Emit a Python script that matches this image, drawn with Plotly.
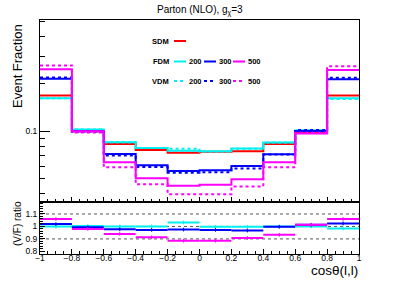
import numpy as np
import plotly.graph_objects as go

# ---------------- data ----------------
edges = [-1.0, -0.8, -0.6, -0.4, -0.2, 0.0, 0.2, 0.4, 0.6, 0.8, 1.0]
centers = [-0.9, -0.7, -0.5, -0.3, -0.1, 0.1, 0.3, 0.5, 0.7, 0.9]

sdm     = [0.169, 0.100, 0.083, 0.076, 0.073, 0.074, 0.0746, 0.083, 0.099, 0.169]
fdm200  = [0.162, 0.1024, 0.085, 0.0783, 0.075, 0.0746, 0.0775, 0.0846, 0.101, 0.162]
fdm300  = [0.216, 0.100, 0.0717, 0.0608, 0.0559, 0.0564, 0.060, 0.0714, 0.1004, 0.214]
fdm500  = [0.248, 0.100, 0.0635, 0.0502, 0.045, 0.0457, 0.0495, 0.0635, 0.0966, 0.245]
vdm200  = [0.162, 0.1027, 0.085, 0.0783, 0.0774, 0.0744, 0.0773, 0.0846, 0.101, 0.160]
vdm300  = [0.220, 0.0993, 0.0700, 0.0591, 0.0545, 0.0548, 0.0580, 0.0712, 0.1017, 0.219]
vdm500  = [0.262, 0.098, 0.059, 0.0459, 0.0397, 0.0397, 0.0444, 0.059, 0.0979, 0.259]

ratio200 = [1.000, 1.003, 1.000, 1.000, 1.032, 0.997, 0.997, 1.000, 1.000, 0.984]
ratio300 = [1.019, 0.993, 0.977, 0.972, 0.975, 0.972, 0.967, 0.997, 1.013, 1.024]
ratio500 = [1.059, 0.980, 0.940, 0.913, 0.886, 0.886, 0.907, 0.933, 1.013, 1.059]
ratio_err = [0.015] * 10

title_text = "Parton (NLO), g<sub>χ</sub>=3"
x_ticks = [-1, -0.8, -0.6, -0.4, -0.2, 0, 0.2, 0.4, 0.6, 0.8, 1]
x_ticklabels = ["−1", "−0.8", "−0.6", "−0.4", "−0.2", "0", "0.2", "0.4", "0.6", "0.8", "1"]
r_ticks = [0.8, 0.9, 1.0, 1.1]
r_ticklabels = ["0.8", "0.9", "1", "1.1"]
r_grid = [0.9, 1.0, 1.1]

RED, CYAN, BLUE, MAG = "#ff0000", "#00f0f0", "#0000ff", "#ff00ff"

# ---------------- layout geometry ----------------
W, H = 399, 288
ML, MR, MT, MB = 40, 40, 20, 34
split_px = 201.5
plot_h = H - MT - MB
split = (H - MB - split_px) / plot_h


def px_x(x):
    return (x - ML) / (W - ML - MR)


def px_y(y):
    return (H - MB - y) / plot_h


fig = go.Figure()


def hist(vals, color, dash):
    fig.add_trace(go.Scatter(
        x=edges, y=list(vals) + [vals[-1]], mode="lines",
        line=dict(color=color, width=2, dash=dash, shape="hv"),
        xaxis="x", yaxis="y", showlegend=False, hoverinfo="skip"))


hist(sdm, RED, "solid")
hist(fdm200, CYAN, "solid")
hist(vdm200, CYAN, "dot")
hist(fdm300, BLUE, "solid")
hist(vdm300, BLUE, "dot")
hist(vdm500, MAG, "dot")
hist(fdm500, MAG, "solid")

# dotted reference lines in the ratio panel
for g in r_grid:
    fig.add_trace(go.Scatter(
        x=[-1, 1], y=[g, g], mode="lines",
        line=dict(color="#555555", width=1, dash="dot"),
        xaxis="x2", yaxis="y2", showlegend=False, hoverinfo="skip"))

for r, c in [(ratio200, CYAN), (ratio300, BLUE), (ratio500, MAG)]:
    fig.add_trace(go.Scatter(
        x=centers, y=r, mode="markers",
        marker=dict(color=c, size=2),
        error_x=dict(type="constant", value=0.1, color=c, thickness=2, width=0),
        error_y=dict(type="data", array=ratio_err, color=c, thickness=1, width=0),
        xaxis="x2", yaxis="y2", showlegend=False, hoverinfo="skip"))

font = "Liberation Sans, Arial, sans-serif"
TF = 8.5

y_minor = [0.04, 0.05, 0.06, 0.07, 0.08, 0.09, 0.2, 0.3, 0.4, 0.5]

fig.update_layout(
    width=W, height=H,
    margin=dict(l=ML, r=MR, t=MT, b=MB, pad=0),
    paper_bgcolor="white", plot_bgcolor="white",
    font=dict(family=font, size=10, color="black"),
    xaxis=dict(domain=[0, 1], range=[-1, 1], anchor="y",
               showline=True, mirror=True, linecolor="black", linewidth=1,
               ticks="inside", ticklen=5, tickcolor="black",
               tickmode="array", tickvals=x_ticks, showticklabels=False,
               minor=dict(ticks="inside", ticklen=3, dtick=0.05, tick0=-1,
                          tickcolor="black"),
               showgrid=False, zeroline=False),
    yaxis=dict(domain=[split, 1], type="log",
               range=[np.log10(0.0357), np.log10(0.51)], anchor="x",
               showline=True, mirror=True, linecolor="black", linewidth=1,
               ticks="inside", ticklen=10, tickcolor="black",
               tickmode="array", tickvals=[0.1], ticktext=["0.1"],
               minor=dict(ticks="inside", ticklen=5, tickmode="array",
                          tickvals=y_minor, tickcolor="black"),
               tickfont=dict(size=TF),
               showgrid=False, zeroline=False),
    xaxis2=dict(domain=[0, 1], range=[-1, 1], anchor="y2",
                showline=True, mirror=True, linecolor="black", linewidth=1,
                ticks="inside", ticklen=5, tickcolor="black",
                tickmode="array", tickvals=x_ticks, ticktext=x_ticklabels,
                tickfont=dict(size=TF), ticklabelstandoff=-4,
                minor=dict(ticks="inside", ticklen=3, dtick=0.05, tick0=-1,
                           tickcolor="black"),
                showgrid=False, zeroline=False),
    yaxis2=dict(domain=[0, split], range=[0.779, 1.2], anchor="x2",
                showline=True, mirror=True, linecolor="black", linewidth=1,
                ticks="inside", ticklen=5, tickcolor="black",
                tickmode="array", tickvals=r_ticks, ticktext=r_ticklabels,
                tickfont=dict(size=TF),
                minor=dict(ticks="inside", ticklen=3, dtick=0.02, tick0=0.8,
                           tickcolor="black"),
                showgrid=False, zeroline=False),
)

annotations = []


def add_text(text, xpx, ypx, size, anchor="center", bold=False, angle=0):
    annotations.append(dict(
        text=("<b>%s</b>" % text) if bold else text,
        x=px_x(xpx), y=px_y(ypx), xref="paper", yref="paper",
        xanchor=anchor, yanchor="middle", showarrow=False, textangle=angle,
        font=dict(size=size, family=font, color="black")))


add_text(title_text, 199.5, 11, 10)
add_text("Event Fraction", 17, 66, 13, angle=-90)
add_text("(V/F) ratio", 17, 224, 10, angle=-90)
add_text("cosθ(l,l)", 360, 270.5, 13.5, anchor="right")

# legend
add_text("SDM", 171, 41, 7.5, anchor="right", bold=True)
add_text("FDM", 171, 61.5, 7.5, anchor="right", bold=True)
add_text("VDM", 171, 81, 7.5, anchor="right", bold=True)
shapes = []


def leg_line(x0, x1, ypx, color, dash):
    shapes.append(dict(type="line", xref="paper", yref="paper",
                       x0=px_x(x0), x1=px_x(x1), y0=px_y(ypx), y1=px_y(ypx),
                       line=dict(color=color, width=2, dash=dash)))


leg_line(174, 186, 41, RED, "solid")
for (x0, c, lab) in [(174, CYAN, "200"), (204, BLUE, "300"), (233, MAG, "500")]:
    leg_line(x0, x0 + 12, 61.5, c, "solid")
    add_text(lab, x0 + 13, 61.5, 7.5, anchor="left", bold=True)
    leg_line(x0, x0 + 12, 81, c, "dot")
    add_text(lab, x0 + 13, 81, 7.5, anchor="left", bold=True)

fig.update_layout(annotations=annotations, shapes=shapes)
fig.write_html("out.html",
               config={"displayModeBar": False},
               post_script="document.body.style.margin='0';document.body.style.padding='0';")
